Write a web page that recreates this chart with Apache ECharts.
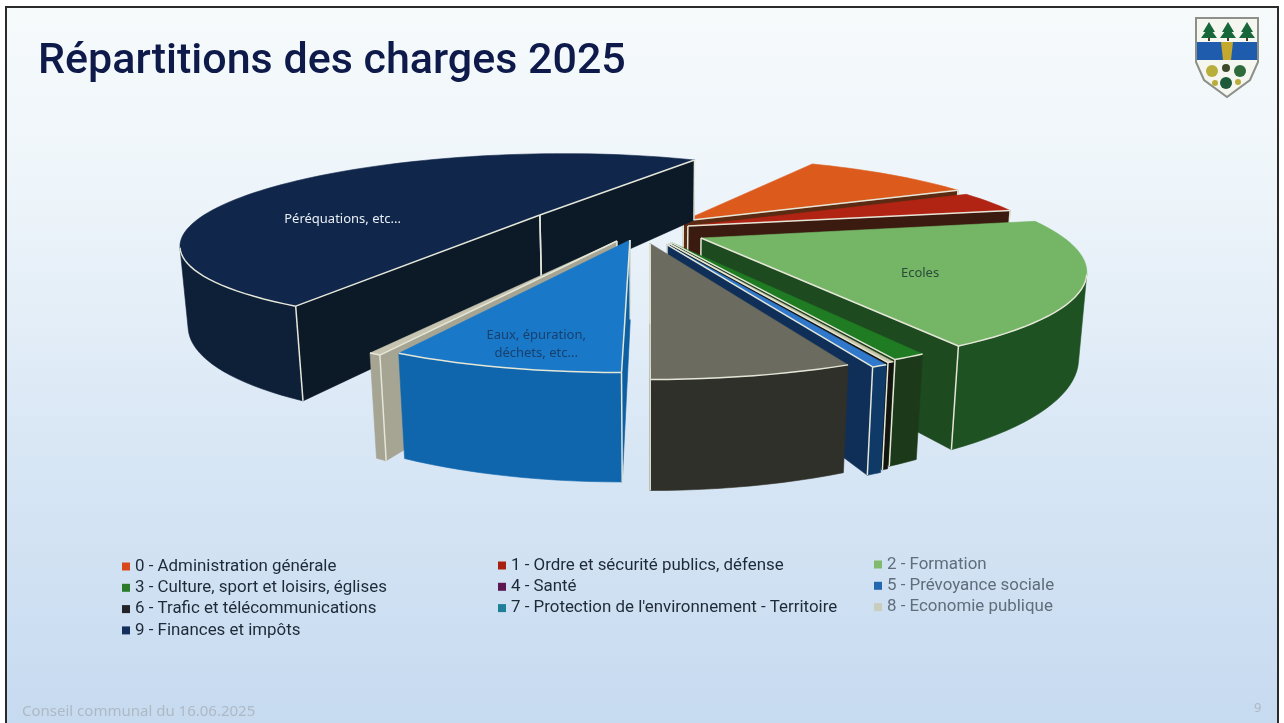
<!DOCTYPE html>
<html><head><meta charset="utf-8">
<script src="https://cdn.jsdelivr.net/npm/echarts@6/dist/echarts.min.js"></script>
<style>html,body{margin:0;padding:0;background:#fff}#c{width:1284px;height:723px}</style></head>
<body><div id="c"></div>
<script>
const categories = ["0 - Administration générale","1 - Ordre et sécurité publics, défense","2 - Formation","3 - Culture, sport et loisirs, églises","4 - Santé","5 - Prévoyance sociale","6 - Trafic et télécommunications","7 - Protection de l'environnement - Territoire","8 - Economie publique","9 - Finances et impôts"];
const shares = [9.9,3.8,20.0,1.1,0.2,0.5,6.3,7.4,0.4,50.4];
const titleText = "Répartitions des charges 2025";
const footerText = "Conseil communal du 16.06.2025";
const pageNumber = "9";

const legendColors = ["#d9481c","#a8200f","#7fbb6a","#2a7a28","#5c1650","#2566b0","#22242a","#1f7f98","#c9cdbc","#13305c"];
const topColors = ["#dc5a1c","#b12313","#74b566","#1f7c22","#c9c7a8","#2f78cc","#6c6b60","#1a78c8","#c6c4b0","#10264a"];
const innerColors = ["#5a2a12","#3b1a10","#1e4a20","#1b3a1a","#14140f","#0f2f58","#2f3029","#0e5ea2","#a6a492","#0c1a28"];
const outerColors = ["#8a3a12","#5a1a10","#1f5222","#1c3a1a","#14140f","#0f3a68","#2f3029","#0f66ad","#a6a492","#0e1f38"];
// ground-plane offset of every exploded slice
const offsets = [[.085,-.094],[.095,-.041],[.123,.079],[.05,.12],[.045,.13],[.04,.14],[0,.13],[-.048,.098],[-.079,.107],[-.287,-.16]];
const notes = {2:{t:"Ecoles",b:123,r:0.55,c:"#2b4a3a"},7:{t:"Eaux, épuration,\ndéchets, etc...",b:192,r:0.75,c:"#17406e"},9:{t:"Péréquations, etc...",b:265,r:0.505,c:"#e8eef5"}};

const T = 14.2*Math.PI/180, D = 2.92, F = 1180, CX = 650, CY = 230, H = 0.2, R = 0.875, START = 29.5;
const cosT = Math.cos(T), sinT = Math.sin(T);
function project(X,Y,Z){ const yc=Y*sinT-Z*cosT, zc=D-Y*cosT-Z*sinT; return [CX+F*X/zc, CY+F*yc/zc]; }
const rad = d=>d*Math.PI/180;
const total = shares.reduce((a,b)=>a+b,0);
const spans = []; { let a=START; shares.forEach(v=>{const s=v/total*360; spans.push([a,a+s]); a+=s;}); }
function ground(a,b,r){ return [a[0]+r*Math.sin(rad(b)), a[1]-r*Math.cos(rad(b))]; }
function signedArea(p){ let s=0; for(let i=0;i<p.length;i++){const q=p[(i+1)%p.length]; s+=p[i][0]*q[1]-q[0]*p[i][1];} return s; }
const EDGE_COLOR="#e4e6d8";
function poly(points,fill){ return {type:"polygon",shape:{points},style:{fill,stroke:fill,lineWidth:0.6}}; }
function edge(points){ return {type:"polyline",shape:{points},style:{fill:null,stroke:EDGE_COLOR,lineWidth:1.5,lineJoin:"round"}}; }

function sliceRenderer(i){
  return function(params,api){
    const span = (api.value(0)/total)*360, b0 = spans[i][0];
    const a = offsets[i], n = Math.max(4,Math.ceil(span/2));
    const arc=[]; for(let k=0;k<=n;k++){ arc.push(ground(a,b0+span*k/n,R)); }
    const top=p=>project(p[0],p[1],0), bot=p=>project(p[0],p[1],-H);
    const walls=[], lines=[];
    const quad=(p,q)=>[top(p),top(q),bot(q),bot(p)];
    const q0=quad(a,arc[0]), q1=quad(arc[n],a);
    const vert=p=>edge([top(p),bot(p)]);
    if(signedArea(q0)<0){ walls.push(poly(q0,innerColors[i])); lines.push(edge([top(a),top(arc[0])]),vert(arc[0]),vert(a)); }
    if(signedArea(q1)<0){ walls.push(poly(q1,innerColors[i])); lines.push(edge([top(a),top(arc[n])]),vert(arc[n]),vert(a)); }
    let run=[];
    const flush=()=>{ if(run.length>1){ const pts=run.map(top).concat(run.slice().reverse().map(bot)); walls.push(poly(pts,outerColors[i])); lines.push(edge(run.map(top))); } run=[]; };
    for(let k=0;k<n;k++){
      if(signedArea(quad(arc[k],arc[k+1]))<0){ if(!run.length) run.push(arc[k]); run.push(arc[k+1]); }
      else flush();
    }
    flush();
    const children=walls.concat([poly([top(a)].concat(arc.map(top)),topColors[i])],lines);
    if(notes[i]){
      const g=ground(a,notes[i].b,notes[i].r), s=top(g);
      children.push({type:"text",style:{text:notes[i].t,x:s[0],y:s[1],fill:notes[i].c,font:'13px "Noto Sans"',align:"center",verticalAlign:"middle",lineHeight:18}});
    }
    return {type:"group",children};
  };
}
const depthRank = categories.map((_,i)=>{ const m=(spans[i][0]+spans[i][1])/2; return [ground(offsets[i],m,0.6)[1],i]; }).sort((x,y)=>x[0]-y[0]).map(x=>x[1]);
const series = categories.map((name,i)=>({
  type:"custom",name,coordinateSystem:"none",silent:true,animation:false,
  z:10+depthRank.indexOf(i),
  itemStyle:{color:legendColors[i]},
  encode:{value:0},
  data:[[shares[i]]],
  renderItem:sliceRenderer(i)
}));
function legendCol(idx,left,top,color){
  return {show:true,orient:"vertical",left,top,padding:0,itemGap:4.3,itemWidth:8,itemHeight:8,icon:"rect",selectedMode:false,
    data:idx.map(i=>categories[i]),textStyle:{color,fontSize:16.9,fontFamily:"Roboto"}};
}
const chart = echarts.init(document.getElementById("c"),null,{renderer:"canvas"});
const tree=(x)=>[
  {type:"polygon",shape:{points:[[x,22],[x+6,32],[x-6,32]]},style:{fill:"#16683a"}},
  {type:"polygon",shape:{points:[[x,27],[x+8,38],[x-8,38]]},style:{fill:"#16683a"}},
  {type:"rect",shape:{x:x-1,y:38,width:2,height:3},style:{fill:"#4a3a20"}}
];
const logo = {type:"group",z:50,children:[
  {type:"polygon",shape:{points:[[1196,18],[1258,18],[1258,62],[1250,80],[1227,97],[1204,80],[1196,62]]},style:{fill:"#f5f6ef",stroke:"#8c9088",lineWidth:2}},
  {type:"polygon",shape:{points:[[1197,42],[1257,42],[1257,60],[1197,60]]},style:{fill:"#1f5cae"}},
  {type:"polygon",shape:{points:[[1221,42],[1233,42],[1231,60],[1223,60]]},style:{fill:"#c4a92e"}},
  ...tree(1209),...tree(1228),...tree(1247),
  {type:"circle",shape:{cx:1212,cy:71,r:6},style:{fill:"#b9ad3c"}},
  {type:"circle",shape:{cx:1240,cy:71,r:6},style:{fill:"#2f6b3a"}},
  {type:"circle",shape:{cx:1226,cy:83,r:6},style:{fill:"#1c5a3a"}},
  {type:"circle",shape:{cx:1226,cy:68,r:4},style:{fill:"#3d4a2a"}},
  {type:"circle",shape:{cx:1215,cy:83,r:3},style:{fill:"#b9ad3c"}},
  {type:"circle",shape:{cx:1238,cy:82,r:3},style:{fill:"#b9ad3c"}}
]};
chart.setOption({
  animation:false,
  backgroundColor:"#ffffff",
  title:[{text:titleText,left:33,top:36,textStyle:{fontFamily:"Roboto",fontSize:43,fontWeight:500,color:"#0e1a4a"}}],
  legend:[legendCol([0,3,6,9],122,558,"#1f2a38"),legendCol([1,4,7],498,557,"#1f2a38"),legendCol([2,5,8],874,556,"#5f6e7a")],
  graphic:[
    {type:"rect",z:-10,shape:{x:6,y:7,width:1272,height:720},style:{stroke:"#2a2a2a",lineWidth:2,fill:{type:"linear",x:0,y:0,x2:0,y2:1,colorStops:[{offset:0,color:"#f6fafb"},{offset:0.25,color:"#eef5fa"},{offset:0.6,color:"#d9e7f5"},{offset:1,color:"#c6daf0"}]}}},
    logo,
    {type:"text",left:22,top:704,style:{text:footerText,fill:"#aeb9c4",font:'15px "Noto Sans"'}},
    {type:"text",left:1254,top:702,style:{text:pageNumber,fill:"#aeb9c4",font:'13px "Noto Sans"'}}
  ],
  series
});
</script></body></html>
